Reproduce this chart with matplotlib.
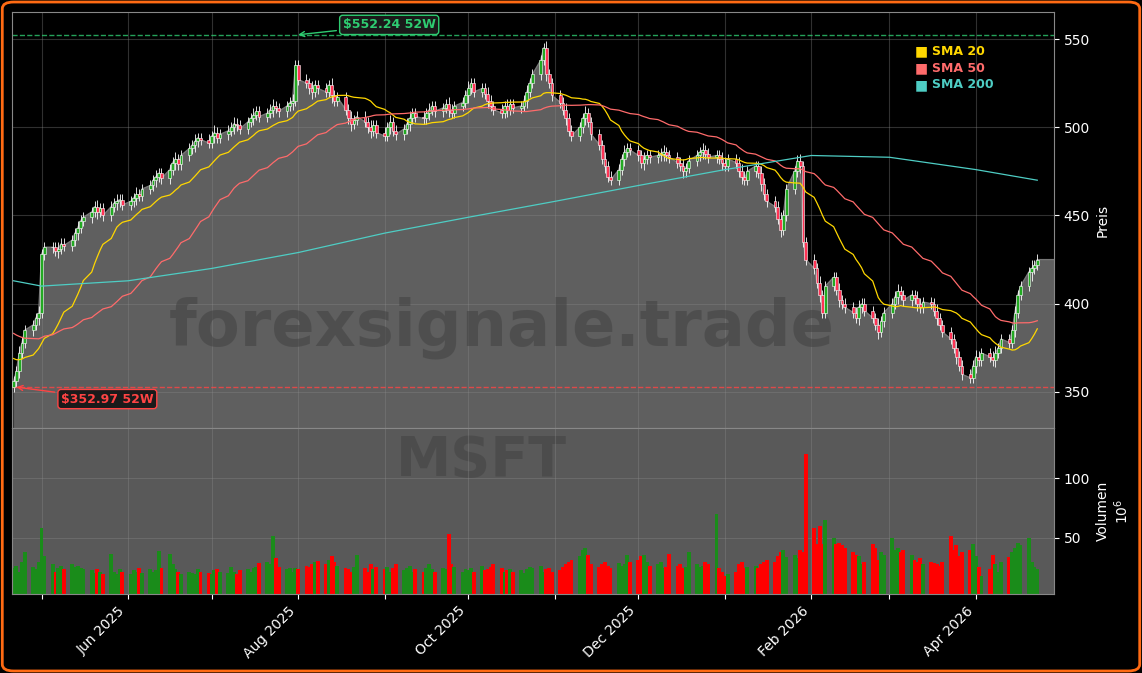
import numpy as np, pandas as pd, matplotlib
matplotlib.use("Agg")
import matplotlib.pyplot as plt
import matplotlib.dates as mdates
from matplotlib.patches import FancyBboxPatch

# closes before the visible window (only used to seed the moving averages)
pre_closes = [412,410,408,409,405,400,398,396,394,392, 390,388,389,392,395,396,394,391,388,386,
 388,390,392,394,393,390,388,385,382,380, 378,375,372,370,368, 360,355,358,370,375,
 380,378,372,368,365, 370,372,375,372,368]
closes = [356,362,372,378,385, 388,392,395,428,432, 432,430,431,434,433, 436,440,443,447,449,
 452,455,452,454,450, 455,457,458,459,456, 458,460,462,461,465, 467,470,472,474,471,
 476,480,482,479,484, 488,490,492,494,493, 491,495,497,494,496, 498,500,502,501,499,
 503,505,507,509,506, 508,510,512,511,509, 512,514,515,535,527, 525,522,520,524,522,
 520,524,518,515,517, 510,505,502,504,506, 503,500,498,501,497, 495,500,503,498,496,
 499,502,505,508,506, 505,508,510,512,509, 511,513,510,508,512, 514,518,522,525,520,
 522,519,515,512,510, 508,512,510,513,511, 512,515,520,525,530, 538,545,530,525,518,
 514,510,505,498,495, 500,505,508,503,496, 490,482,478,472,470, 476,482,486,488,487,
 484,480,482,484,483, 484,485,486,484,483, 480,478,475,477,481, 484,486,487,485,483,
 484,482,480,478,482, 480,475,472,470,475, 478,474,468,462,458, 455,448,442,450,465,
 475,481,478,435,425, 420,412,405,395,410, 415,408,402,400,398, 395,392,398,400,396,
 392,388,384,390,395, 400,404,407,405,402, 405,403,400,398,401, 400,396,392,388,384,
 380,375,370,365,360, 358,365,370,368,372, 370,368,372,375,380, 378,385,395,405,410,
 418,420,422,425]
opens = [353] + closes[:-1]
wick = [3,3,4,3,3]*52 + [3,5,3,3]
volumes = [25,27,22,30,38, 26,24,30,58,35, 28,22,25,27,24, 28,26,27,25,24,
 23,21,24,22,20, 37,22,20,24,22, 20,23,22,25,21, 24,22,23,39,25, 37,28,24,22,20,
 22,21,20,24,22, 21,20,23,24,22, 21,26,22,20,23, 24,22,25,26,29, 30,28,52,33,26,
 24,25,22,25,24, 27,26,28,30,31, 28,32,35,30,27, 25,24,22,26,36, 25,22,28,24,26,
 24,26,22,25,28, 23,25,27,22,24,
 22,25,28,24,22, 25,24,53,28,26, 22,24,23,25,22, 27,23,24,26,28, 25,22,23,24,22,
 23,21,24,26,25, 27,22,24,25,22, 23,26,28,30,32, 35,40,42,36,28, 26,28,30,27,25,
 29,27,28,36,30, 32,35,36,30,27, 28,30,25,26,37, 27,28,25,26,38, 28,26,27,30,28,
 70,25,22,18,20, 22,28,30,25,26, 27,25,28,30,32, 30,35,38,40,34, 36,33,40,38,120,
 58,45,60,45,65, 50,45,46,44,42, 38,36,35,28,30, 45,42,32,38,36, 50,40,42,38,40,
 36,32,30,33,28, 30,29,28,27,30, 52,40,44,35,38, 40,45,35,26,18, 24,36,28,22,30,
 34,38,42,46,44, 50,30,26,24]
dates = pd.bdate_range("2025-04-21", "2026-04-20")[:len(closes)]
if len(dates) < len(closes):
    dates = pd.bdate_range("2025-04-21", periods=len(closes))

sma200_dates = pd.to_datetime(["2025-04-21","2025-05-01","2025-06-01","2025-07-01","2025-08-01","2025-09-01",
 "2025-10-01","2025-11-01","2025-12-01","2026-01-01","2026-02-01","2026-03-01","2026-04-01",str(dates[-1].date())])
sma200_vals = [413,410,413,420,429,440,449,458,467,476,484,483,476,470]

n_pre = len(pre_closes)
c = pd.Series(pre_closes + closes, dtype=float)
sma20 = c.rolling(20, min_periods=1).mean().iloc[n_pre:].values
sma50 = c.rolling(50, min_periods=1).mean().iloc[n_pre:].values

BG = "#000000"; PANEL = "#595959"
fig = plt.figure(figsize=(11.42, 6.73), dpi=100, facecolor=BG)
ax = fig.add_axes([12/1142, 1-428/673, 1042/1142, 416/673])
axv = fig.add_axes([12/1142, 1-594/673, 1042/1142, 166/673], sharex=ax)
x0 = pd.Timestamp("2025-04-20 10:00"); x1 = pd.Timestamp("2026-04-29")
for a in (ax, axv):
    a.set_facecolor(BG if a is ax else PANEL)
    a.grid(True, color="#8a8a8a", alpha=0.35, lw=0.8)
    a.yaxis.tick_right(); a.yaxis.set_label_position("right")
    a.tick_params(colors="white", labelsize=10)
    for s in a.spines.values(): s.set_color("#888888")
ax.set_xlim(x0, x1)
ax.set_ylim(329.6, 565.3)
ext_d = list(dates) + [x1]; ext_c = closes + [closes[-1]]
ax.fill_between(ext_d, ext_c, 329.6, color="#5f5f5f", zorder=1)
ax.plot(ext_d, ext_c, color="#777777", lw=1, zorder=1.5)

w = 1.0
for d, o, cl, wk in zip(dates, opens, closes, wick):
    col = "#22aa22" if cl >= o else "#ff3355"
    hi = max(o, cl) + wk; lo = min(o, cl) - wk
    ax.vlines(d, lo, hi, color="white", lw=0.6, zorder=2)
    ax.bar(d, max(abs(cl - o), 0.4), bottom=min(o, cl), width=w, color=col, edgecolor="white", lw=0.4, zorder=3)

ax.plot(dates, sma20, color="#FFD700", lw=0.9, zorder=4)
ax.plot(dates, sma50, color="#FF6B6B", lw=0.9, zorder=4)
ax.plot(sma200_dates, sma200_vals, color="#4ECDC4", lw=0.9, zorder=4)

hi52, lo52 = 552.24, 352.97
ax.axhline(hi52, color="#2ecc71", ls="--", lw=1, alpha=0.8)
ax.axhline(lo52, color="#ff4444", ls="--", lw=1, alpha=0.8)
ax.annotate("$552.24 52W", xy=(pd.Timestamp("2025-07-31"), hi52), xytext=(pd.Timestamp("2025-08-17"), 558),
            color="#2ecc71", fontsize=9, fontweight="bold", va="center",
            bbox=dict(boxstyle="round,pad=0.25", fc="#1a1a1a", ec="#2ecc71"),
            arrowprops=dict(arrowstyle="->", color="#2ecc71"), zorder=6)
ax.annotate("$352.97 52W", xy=(dates[0], lo52), xytext=(pd.Timestamp("2025-05-08"), 346),
            color="#ff4444", fontsize=9, fontweight="bold", va="center",
            bbox=dict(boxstyle="round,pad=0.25", fc="#1a1a1a", ec="#ff4444"),
            arrowprops=dict(arrowstyle="->", color="#ff4444"), zorder=6)

ax.text(0.47, 0.24, "forexsignale.trade", transform=ax.transAxes, fontsize=46, fontweight="bold",
        color="#444444", alpha=0.6, ha="center", va="center", zorder=1.6)
axv.text(0.45, 0.8, "MSFT", transform=axv.transAxes, fontsize=40, fontweight="bold",
         color="#444444", alpha=0.6, ha="center", va="center", zorder=0.5)

for i, (lab, col) in enumerate([("SMA 20", "#FFD700"), ("SMA 50", "#FF6B6B"), ("SMA 200", "#4ECDC4")]):
    yy = 0.905 - i * 0.04
    ax.text(0.866, yy, "■", transform=ax.transAxes, color=col, fontsize=10, va="center")
    ax.text(0.883, yy, lab, transform=ax.transAxes, color=col, fontsize=9, fontweight="bold", va="center")

ax.set_ylabel("Preis", color="white", fontsize=10)
ax.set_yticks([350, 400, 450, 500, 550])
plt.setp(ax.get_xticklabels(), visible=False)

vcol = ["#1a8c1a" if cl >= o else "#ff0000" for o, cl in zip(opens, closes)]
axv.bar(dates, np.array(volumes) * 1e6, width=1.4, color=vcol, zorder=2)
axv.set_ylim(3.3e6, 141.7e6)
axv.set_yticks([50e6, 100e6]); axv.set_yticklabels(["50", "100"])
axv.set_ylabel("Volumen\n$10^6$", color="white", fontsize=10)
axv.xaxis.set_major_locator(mdates.MonthLocator())
axv.xaxis.set_major_formatter(mdates.DateFormatter("%b %Y"))
for lbl in axv.get_xticklabels():
    lbl.set_rotation(45); lbl.set_ha("right")
fig.canvas.draw()
for i, lbl in enumerate(axv.get_xticklabels()):
    t = lbl.get_text()
    if not any(m in t for m in ("Jun", "Aug", "Oct", "Dec", "Feb", "Apr")):
        lbl.set_visible(False)
fig.add_artist(FancyBboxPatch((0.002, 0.003), 0.996, 0.994, boxstyle="round,pad=0,rounding_size=0.01",
               transform=fig.transFigure, fc="none", ec="#ff6a13", lw=2))
fig.savefig("out.png", dpi=100, facecolor=BG)
